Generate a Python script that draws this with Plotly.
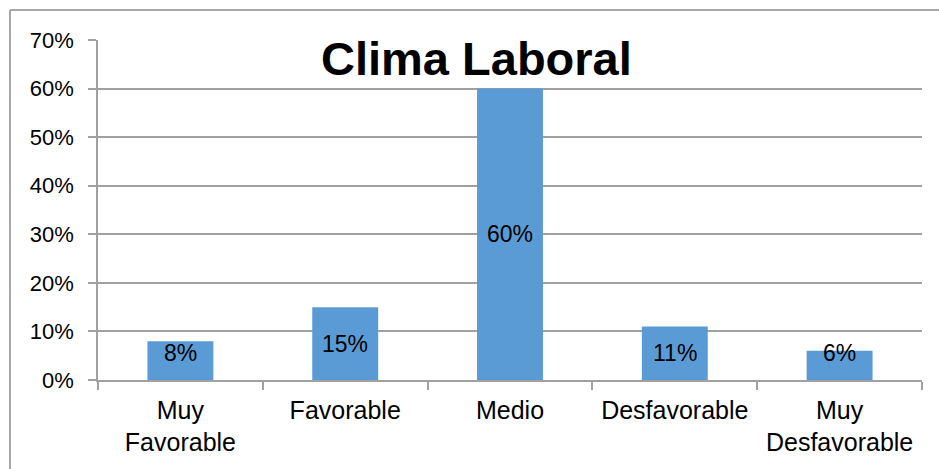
import plotly.graph_objects as go

categories = ["Muy<br>Favorable", "Favorable", "Medio", "Desfavorable", "Muy<br>Desfavorable"]
values = [8, 15, 60, 11, 6]
labels = ["8%", "15%", "60%", "11%", "6%"]
y_ticks = [0, 10, 20, 30, 40, 50, 60, 70]
y_tick_text = ["0%", "10%", "20%", "30%", "40%", "50%", "60%", "70%"]
title_text = "Clima Laboral"

W, H = 939, 469
ML, MR, MT, MB = 98, 17, 40, 89
pw = W - ML - MR
ph = H - MT - MB

fig = go.Figure()
fig.add_trace(go.Bar(
    x=categories, y=values,
    marker=dict(color="#5B9BD5", line=dict(width=0)),
    hoverinfo="skip",
))

for c, v, t in zip(categories, values, labels):
    fig.add_annotation(x=c, y=max(v / 2, 5.5), text=t, showarrow=False,
                       xref="x", yref="y", yanchor="middle",
                       font=dict(family="Liberation Sans, Arial", size=23, color="#000000"))

# title overlaid on the plot
fig.add_annotation(x=(476 - ML) / pw, y=(H - MB - 58) / ph, xref="paper", yref="paper",
                   text="<b>" + title_text + "</b>", showarrow=False,
                   xanchor="center", yanchor="middle",
                   font=dict(family="Liberation Sans, Arial", size=47, color="#000000"))

# outer chart border
bx0 = (10 - ML) / pw
by0 = (H - MB - 10) / ph
fig.add_shape(type="line", xref="paper", yref="paper", x0=bx0, x1=bx0, y0=by0, y1=-0.5,
              line=dict(color="#A6A6A6", width=2))
fig.add_shape(type="line", xref="paper", yref="paper", x0=bx0, x1=1.2, y0=by0, y1=by0,
              line=dict(color="#A6A6A6", width=2))

fig.update_layout(
    width=W, height=H,
    margin=dict(l=ML, r=MR, t=MT, b=MB, pad=0),
    paper_bgcolor="white", plot_bgcolor="white",
    bargap=0.6, showlegend=False,
    font=dict(family="Liberation Sans, Arial", color="#000000"),
)
fig.update_xaxes(
    showgrid=False, showline=True, linecolor="#A0A0A0", linewidth=1.5,
    ticks="outside", tickson="boundaries", ticklen=8, tickcolor="#A0A0A0", tickwidth=1.5,
    tickfont=dict(family="Liberation Sans, Arial", size=25, color="#000000"),
    ticklabelstandoff=7,
    fixedrange=True,
)
fig.update_yaxes(
    range=[0, 70], tickvals=y_ticks, ticktext=y_tick_text,
    showgrid=True, gridcolor="#A0A0A0", gridwidth=1.5,
    showline=True, linecolor="#A0A0A0", linewidth=1.5, zeroline=False,
    ticks="outside", ticklen=8, tickcolor="#A0A0A0", tickwidth=1.5,
    tickfont=dict(family="Liberation Sans, Arial", size=22, color="#000000"),
    ticklabelstandoff=10,
    fixedrange=True,
)

fig.write_html("out.html", config={"displayModeBar": False})
